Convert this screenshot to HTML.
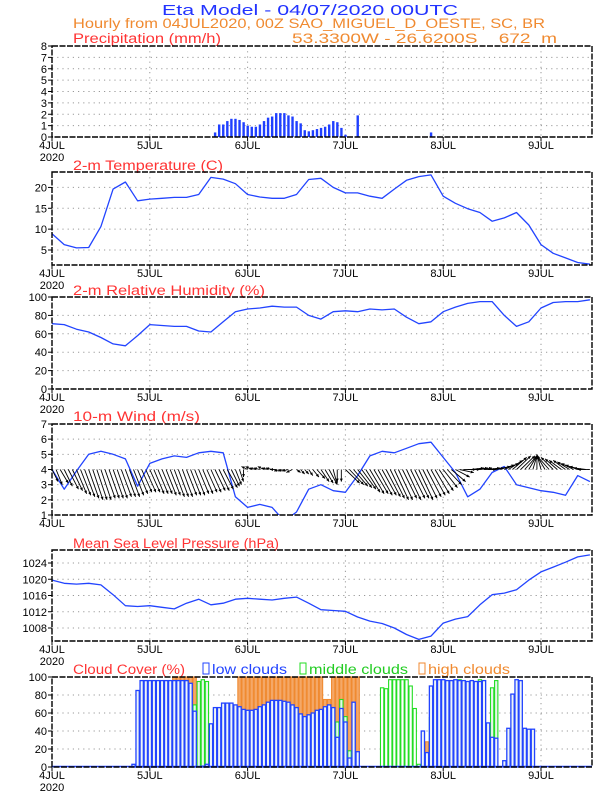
<!DOCTYPE html>
<html><head><meta charset="utf-8"><title>Eta Meteogram</title>
<style>
html,body{margin:0;padding:0;background:#fff;}
svg{display:block;font-family:"Liberation Sans",sans-serif;}
</style></head>
<body>
<svg id="chart" xmlns="http://www.w3.org/2000/svg" width="612" height="792" viewBox="0 0 612 792">
<text x="310" y="15" text-anchor="middle" font-size="15" fill="#2233ff" textLength="296" lengthAdjust="spacingAndGlyphs">Eta Model - 04/07/2020 00UTC</text>
<text x="73" y="28" font-size="13.5" fill="#f08a30" textLength="472" lengthAdjust="spacingAndGlyphs">Hourly from 04JUL2020, 00Z  SAO_MIGUEL_D_OESTE, SC, BR</text>
<text x="73" y="43" font-size="13.5" fill="#ff3333" textLength="148" lengthAdjust="spacingAndGlyphs">Precipitation (mm/h)</text>
<text x="292" y="43" font-size="13.5" fill="#f08a30" textLength="265" lengthAdjust="spacingAndGlyphs" xml:space="preserve">53.3300W - 26.6200S    672  m</text>
<text x="73" y="170" font-size="13.5" fill="#ff3333" textLength="150" lengthAdjust="spacingAndGlyphs">2-m Temperature (C)</text>
<text x="73" y="295" font-size="13.5" fill="#ff3333" textLength="192" lengthAdjust="spacingAndGlyphs">2-m Relative Humidity (%)</text>
<text x="73" y="421" font-size="13.5" fill="#ff3333" textLength="127" lengthAdjust="spacingAndGlyphs">10-m Wind (m/s)</text>
<text x="73" y="548" font-size="13.5" fill="#ff3333" textLength="206" lengthAdjust="spacingAndGlyphs">Mean Sea Level Pressure (hPa)</text>
<text x="73" y="674" font-size="13.5" fill="#ff3333" textLength="112" lengthAdjust="spacingAndGlyphs">Cloud Cover (%)</text>
<g><rect x="203" y="663" width="6" height="11" fill="none" stroke="#2244ff"/><text x="212" y="674" font-size="13.5" fill="#2244ff" textLength="75" lengthAdjust="spacingAndGlyphs">low clouds</text></g>
<g><rect x="300" y="663" width="6" height="11" fill="none" stroke="#22dd22"/><text x="309" y="674" font-size="13.5" fill="#22cc22" textLength="99" lengthAdjust="spacingAndGlyphs">middle clouds</text></g>
<g><rect x="419" y="663" width="6" height="11" fill="none" stroke="#f08a30"/><text x="428" y="674" font-size="13.5" fill="#f08a30" textLength="82" lengthAdjust="spacingAndGlyphs">high clouds</text></g>
</svg>
<script>
// ---- data (3-hourly line series, hour = index*3) ----
const dayLabels = ["4JUL","5JUL","6JUL","7JUL","8JUL","9JUL"];
const tempValues = [8.9,6.3,5.5,5.6,10.6,19.6,21.3,16.8,17.2,17.4,17.6,17.6,18.3,22.4,22,20.9,18.3,17.7,17.4,17.4,18.3,21.9,22.2,20,18.7,18.7,17.9,17.4,19.6,21.7,22.6,23,17.9,16.2,14.9,14,11.9,12.7,14,11,6.3,4.2,3.1,2,1.6];
const rhValues = [71,70,65,62,56,49,47,58,70,69,68,68,63,62,73,84,87,88,90,89,89,80,76,84,85,84,87,86,87,78,71,73,84,89,93,95,95,80,68,73,88,94,95,95,97];
const windSpeed = [4.0,2.7,3.9,5.0,5.2,5.0,4.7,2.9,4.4,4.7,4.9,4.8,5.1,5.2,5.1,2.2,1.5,1.7,1.5,0.6,1.2,2.7,3.0,2.6,2.5,3.6,4.9,5.2,5.1,5.4,5.7,5.8,4.8,3.8,2.2,2.7,3.8,4.2,3.0,2.8,2.6,2.5,2.3,3.6,3.2];
const mslpValues = [1019.8,1019,1018.8,1019,1018.6,1016.2,1013.5,1013.3,1013.5,1013.1,1012.7,1014.1,1015.1,1013.7,1014.1,1015.1,1015.3,1015.1,1014.9,1015.3,1015.6,1014.1,1012.5,1012.3,1012.1,1010.7,1009.7,1009.1,1008,1006.4,1005.2,1006,1009.2,1010.2,1010.8,1013.7,1016.2,1016.6,1017.4,1019.8,1021.8,1023,1024.2,1025.5,1026];
// ---- hourly wind vector tips (hour 0..132) ----
const windTipV = [3.2,3.0,3.1,2.9, 2.7,2.6,2.4,2.3,2.2,2.1, 2.0,2.0,2.0,2.1,2.1,2.1,2.1,2.2,2.2,2.2, 2.3,2.4,2.5,2.5,
 2.5,2.4,2.4,2.4,2.3,2.3,2.2,2.2,2.2,2.3,2.3,2.3, 2.4,2.4,2.5,2.5,2.6,2.6,2.7,2.8,2.9,3.0,3.2,3.5,
 4.2,4.2,4.1,4.1,4.2,4.1,4.1,4.0,3.9,3.9,3.9,3.8, 3.8,3.7,3.7,3.6,3.5,3.4,3.2,3.1,3.0,3.0,3.2,3.2,
 3.1,3.0,2.9,2.8,2.7,2.5,2.4,2.4,2.3,2.3,2.2,2.1, 2.0,2.0,2.1,2.0,2.1,2.1,2.0,2.1,2.2,2.3,2.4,2.6,
 2.8,3.0,3.2,3.5,3.8,4.0,4.0,4.1,4.1,4.1,4.0,4.1, 4.1,4.2,4.3,4.4,4.6,4.8,4.9,4.9,4.9,4.9,4.9,5.0,
 5.0,4.9,4.9,4.8,4.7,4.6,4.6,4.5,4.4,4.3,4.2,4.1,4.0];
const windTipU = [1.5,1.5,2,2,2.5,2.5,2.5,2.5,2.5,2.5,2.5,2.5,2.5,2.5,2.5,2.5,2.5,2.5,2.5,2.5,2.5,2.5,2.5,2.5,
 2.5,2.5,2.5,2.5,2.5,2.5,2.5,2.5,2.5,2.5,2.5,2.5,2.5,2.5,2.5,2.5,2.5,2.5,2.5,2.5,2,1.5,1,0,
 -1.5,-1.5,-1.5,-1.5,-1.5,-1.5,-1.5,-1.5,-1.5,-1.5,-1.5,-1.5, 1,1,1,1,1.5,2,2,2,2,1,0,0,
 3.5,3.5,3.5,3.5,3.5,3.5,3.5,3.5,3.5,3.5,3.5,3.5, 3.5,3.5,3.5,3.5,3.5,3.5,3.5,3.5,3.5,3.5,3.5,3.5,
 3.5,3.5,3.5,3.5,3.5,3,3,3,3,3,3,3, 3,3.5,3.5,3.5,3.5,3.5,3.5,3.5,3,2,1,0,
 -1,-2,-3,-3,-3,-3,-3,-3,-3,-3,-3,-3,-3];
// ---- precipitation (hourly, sparse) ----
const precipHours = [40,41,42,43,44,45,46,47,48,49,50,51,52,53,54,55,56,57,58,59,60,61,62,63,64,65,66,67,68,69,70,71,72,75,93];
const precipValues = [0.4,1.1,1.1,1.4,1.6,1.6,1.5,1.3,1.0,0.9,0.9,1.1,1.4,1.7,1.8,2.1,2.1,2.1,1.9,1.8,1.4,1.2,0.6,0.5,0.6,0.7,0.8,0.9,1.1,1.4,1.3,0.8,0.2,1.9,0.4];
// ---- cloud cover (hourly runs: start hour + values) ----
const lowStartA = 20;
const lowValuesA = [3,85,96,96,96,96,96,96,96,96,96,96,96,96,93,62,0,1,3,48,66,66,71,71,71,69,67,64,63,63,64,67,69,72,74,74,74,73,72,69,66,59,56,58,60,63,64,67,69,66,33,65,50,10,72,17];
const lowStartB = 91;
const lowValuesB = [40,16,90,97,97,97,96,96,97,96,96,95,96,95,95,96,49,33,32,0,7,43,81,97,96,43,42,42];
const midStartA = 33;
const midValuesA = [18,60,69,95,97,95,18,64,64,69,69,69,67,65,62,61,61,62,65,67,70,72,72,72,71,70,67,64,57,54,56,58,61,62,65,67,64,50,75,56,18];
const midStartB = 81;
const midValuesB = [88,87,97,97,97,97,97,90,65,3];
const midStartC = 93;
const midValuesC = [55,85,95,95,88,95,50,97,95,50,30,40,97,38,0,88,96];
const highStartA = 27;
const highValuesA = [2,3,48,100,100,100,100,100,100];
const highStartB = 46;
const highValuesB = [100,100,100,100,100,100,100,100,100,100,100,100,100,100,100,100,100,100,100,100,100,75,75,100,100,100,100,100,100,100];
const highHoursSparse = [92,97,99,103];
const highValuesSparse = [28,55,58,28];

// ---- layout ----
const NS = "http://www.w3.org/2000/svg";
const svg = document.getElementById("chart");
const X0 = 52, X1 = 592, PXH = 4.075;
function xh(h){ return X0 + h*PXH; }
function mk(tag, parent){ const e = document.createElementNS(NS, tag); (parent||svg).appendChild(e); return e; }
function setA(e, o){ for (const k in o) e.setAttribute(k, o[k]); return e; }
function scaleY(top, bot, vmin, vmax){ return v => bot - (v - vmin)/(vmax - vmin)*(bot - top); }

function panel(name, top, bot, vmin, vmax, ticks, showYear){
  const y = scaleY(top, bot, vmin, vmax);
  const g = mk("g");
  
  
  ticks.forEach(t => {
    const yy = y(t);
    if (Math.abs(yy-top)>1 && Math.abs(yy-bot)>1) {
      const gl = setA(mk("line", g), {x1:X0, x2:X1, y1:yy, y2:yy, stroke:"#999", "stroke-width":1, "stroke-dasharray":"1.2,4"});
      
      
    }
    const tl = setA(mk("text", g), {x:47, y:yy+4, "text-anchor":"end", "font-size":11, fill:"#000"});
    tl.textContent = String(t);
    
    
    setA(mk("line", g), {x1:X0-4, x2:X0, y1:yy, y2:yy, stroke:"#000"});
  });
  dayLabels.forEach((d, i) => {
    const xx = xh(i*24);
    if (i>0) {
      const vl = setA(mk("line", g), {x1:xx, x2:xx, y1:top, y2:bot, stroke:"#999", "stroke-width":1, "stroke-dasharray":"1.2,4"});
      
      
    }
    setA(mk("line", g), {x1:xx, x2:xx, y1:bot, y2:bot+4, stroke:"#000"});
    const lb = setA(mk("text", g), {x:xx, y:bot+12, "text-anchor":"middle", "font-size":11, fill:"#000"});
    lb.textContent = d;
    
    
  });
  if (showYear) {
    const yr = setA(mk("text", g), {x:xh(0), y:bot+24, "text-anchor":"middle", "font-size":11, fill:"#000"});
    yr.textContent = "2020";
    
    
  }
  const cp = setA(mk("clipPath", g), {id: name + "-clip"});
  setA(mk("rect", cp), {x:X0, y:top, width:X1-X0, height:bot-top});
  return {g, y, top, bot};
}
function frame(p, name){
  const f = setA(mk("rect", p.g), {x:X0, y:p.top, width:X1-X0, height:p.bot-p.top, fill:"none", stroke:"#000", "stroke-width":1.4, "stroke-dasharray":"6,1.5"});
  
  
}
function linePlot(p, name, vals, color){
  const pts = vals.map((v,i) => xh(i*3).toFixed(1) + "," + p.y(v).toFixed(1)).join(" ");
  const l = setA(mk("polyline", p.g), {points:pts, fill:"none", stroke:color, "stroke-width":1.3, "stroke-linejoin":"round", "clip-path":"url(#" + name + "-clip)"});
  
  
}

// Precipitation
const pP = panel("precip", 46, 137, 0, 8, [0,1,2,3,4,5,6,7,8], true);
precipHours.forEach((h, i) => {
  const yy = pP.y(precipValues[i]);
  const b = setA(mk("rect", pP.g), {x:xh(h)-1.1, y:yy, width:2.4, height:pP.bot-yy, fill:"#1f3fff"});
  
  
});
frame(pP, "precip");

// Temperature
const pT = panel("temp", 172, 265, 1.4, 23.7, [5,10,15,20], true);
linePlot(pT, "temp", tempValues, "#2244ff");
frame(pT, "temp");

// RH
const pR = panel("rh", 297, 389, 0, 100, [0,20,40,60,80,100], true);
linePlot(pR, "rh", rhValues, "#2244ff");
frame(pR, "rh");

// Wind
const pW = panel("wind", 424, 515, 1, 7, [1,2,3,4,5,6,7], false);
linePlot(pW, "wind", windSpeed, "#2244ff");
windTipV.forEach((v, h) => {
  const x1 = xh(h), y1 = pW.y(4);
  const x2 = xh(h + windTipU[h]), y2 = pW.y(v);
  const a = setA(mk("line", pW.g), {x1, y1, x2, y2, stroke:"#000", "stroke-width":0.9, "clip-path":"url(#wind-clip)"});
  
  
  const dx = x2-x1, dy = y2-y1, len = Math.hypot(dx,dy);
  if (len > 2) {
    const ux = dx/len, uy = dy/len, s = 3;
    const hd = setA(mk("polygon", pW.g), {points:
      x2 + "," + y2 + " " + (x2 - s*ux + s*0.5*uy) + "," + (y2 - s*uy - s*0.5*ux) + " " + (x2 - s*ux - s*0.5*uy) + "," + (y2 - s*uy + s*0.5*ux), fill:"#000", "clip-path":"url(#wind-clip)"});
    
    
  }
});
frame(pW, "wind");

// MSLP
const pM = panel("mslp", 550, 641, 1004.8, 1027.2, [1008,1012,1016,1020,1024], true);
linePlot(pM, "mslp", mslpValues, "#2244ff");
frame(pM, "mslp");

// Cloud cover
const pC = panel("cloud", 677, 767, 0, 100, [0,20,40,60,80,100], true);
function cloudBar(h, v, stroke, fill, nm, sw){
  if (v <= 0) return;
  const yy = pC.y(v);
  const r = setA(mk("rect", pC.g), {x:xh(h)-1.6, y:yy, width:3.3, height:pC.bot-yy, fill:fill, stroke:stroke, "stroke-width":sw});
  
  
}
highValuesA.forEach((v,i) => cloudBar(highStartA+i, v, "#f08a30", "#f4a868", "high-cloud-bar", 1.1));
highValuesB.forEach((v,i) => cloudBar(highStartB+i, v, "#f08a30", "#f4a868", "high-cloud-bar", 1.1));
highHoursSparse.forEach((h,i) => cloudBar(h, highValuesSparse[i], "#f08a30", "#f4a868", "high-cloud-bar", 1.1));
midValuesA.forEach((v,i) => cloudBar(midStartA+i, v, "#22dd22", "#e6f6ea", "middle-cloud-bar", 1.1));
midValuesB.forEach((v,i) => cloudBar(midStartB+i, v, "#22dd22", "#ffffff", "middle-cloud-bar", 1.1));
midValuesC.forEach((v,i) => cloudBar(midStartC+i, v, "#22dd22", "#e6f6ea", "middle-cloud-bar", 1.1));
lowValuesA.forEach((v,i) => cloudBar(lowStartA+i, v, "#2244ff", "#eef5f6", "low-cloud-bar", 1.3));
lowValuesB.forEach((v,i) => cloudBar(lowStartB+i, v, "#2244ff", "#eef5f6", "low-cloud-bar", 1.3));
const base = setA(mk("line", pC.g), {x1:X0, x2:X1, y1:pC.bot-0.5, y2:pC.bot-0.5, stroke:"#2244ff", "stroke-width":1.5});


frame(pC, "cloud");
</script>
</body></html>
